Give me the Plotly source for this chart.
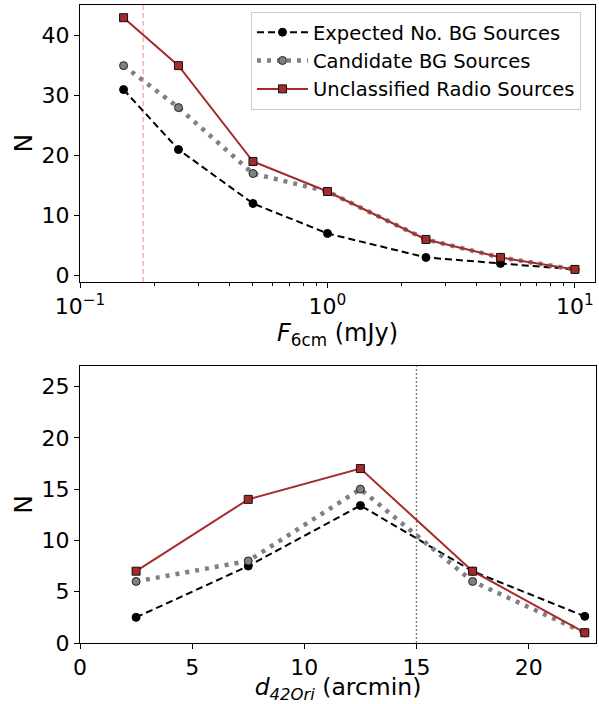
import plotly.graph_objects as go

# ---- data ----
flux = [0.15, 0.25, 0.5, 1.0, 2.5, 5.0, 10.0]
flux_expected = [31, 21, 12, 7, 3, 2, 1]
flux_candidate = [35, 28, 17, 14, 6, 3, 1]
flux_unclassified = [43, 35, 19, 14, 6, 3, 1]
flux_limit = 0.18

dist = [2.5, 7.5, 12.5, 17.5, 22.5]
dist_expected = [2.5, 7.5, 13.4, 7.0, 2.6]
dist_candidate = [6, 8, 15, 6, 1]
dist_unclassified = [7, 14, 17, 7, 1]
dist_limit = 15

names = ["Expected No. BG Sources", "Candidate BG Sources", "Unclassified Radio Sources"]

W, H = 599, 704
FONT = "DejaVu Sans"
BROWN = "#a52a2a"

styles = [
    dict(line=dict(color="black", width=2, dash="7px,4px"),
         marker=dict(symbol="circle", size=8, color="black", line=dict(color="black", width=1))),
    dict(line=dict(color="gray", width=4.5, dash="4px,6px"),
         marker=dict(symbol="circle", size=8, color="gray", line=dict(color="#222222", width=1))),
    dict(line=dict(color=BROWN, width=2),
         marker=dict(symbol="square", size=8, color=BROWN, line=dict(color="#111111", width=1))),
]

fig = go.Figure()

for i, ys in enumerate([flux_expected, flux_candidate, flux_unclassified]):
    fig.add_trace(go.Scatter(x=flux, y=ys, mode="lines+markers", name=names[i],
                             showlegend=True, xaxis="x", yaxis="y", **styles[i]))
for i, ys in enumerate([dist_expected, dist_candidate, dist_unclassified]):
    fig.add_trace(go.Scatter(x=dist, y=ys, mode="lines+markers", name=names[i],
                             showlegend=False, xaxis="x2", yaxis="y2", **styles[i]))

# reference lines
fig.add_shape(type="line", xref="x", yref="y domain", x0=flux_limit, x1=flux_limit, y0=0, y1=1,
              line=dict(color="rgba(255,0,0,0.3)", width=1.5, dash="5px,3px"), layer="below")
fig.add_shape(type="line", xref="x2", yref="y2 domain", x0=dist_limit, x1=dist_limit, y0=0, y1=1,
              line=dict(color="gray", width=1.5, dash="2px,2px"), layer="below")

axis_common = dict(showgrid=False, zeroline=False, showline=True, linecolor="black", linewidth=1,
                   mirror=True, ticks="outside", ticklen=5, tickwidth=1, tickcolor="black",
                   tickfont=dict(family=FONT, size=22, color="black"), automargin=False)

minor_vals = [m * 10 ** e for e in (-1, 0) for m in range(2, 10)]

fig.update_layout(
    width=W, height=H,
    margin=dict(l=0, r=0, t=0, b=0),
    paper_bgcolor="white", plot_bgcolor="white",
    font=dict(family=FONT, color="black"),
    xaxis=dict(type="log", range=[-1, 1.081], domain=[80 / W, 595 / W], anchor="y",
               tickvals=[0.1, 1, 10], ticktext=["10<sup>−1</sup>", "10<sup>0</sup>", "10<sup>1</sup>"],
               minor=dict(tickvals=minor_vals, ticks="outside", ticklen=3, tickcolor="black", tickwidth=1),
               title=dict(text="<i>F</i><sub>6cm</sub> (mJy)", font=dict(family=FONT, size=24), standoff=2),
               **axis_common),
    yaxis=dict(range=[-1.1, 45.2], domain=[1 - 282 / H, 1 - 4.5 / H], anchor="x",
               tickvals=[0, 10, 20, 30, 40],
               title=dict(text="N", font=dict(family=FONT, size=25), standoff=1),
               **axis_common),
    xaxis2=dict(range=[0, 23], domain=[80 / W, 596 / W], anchor="y2",
                tickvals=[0, 5, 10, 15, 20],
                title=dict(text="<i>d</i><sub><i>42Ori</i></sub> (arcmin)", font=dict(family=FONT, size=23.5), standoff=10),
                **axis_common),
    yaxis2=dict(range=[0, 27], domain=[1 - 643 / H, 1 - 366 / H], anchor="x2",
                tickvals=[0, 5, 10, 15, 20, 25],
                title=dict(text="N", font=dict(family=FONT, size=25), standoff=1),
                **axis_common),
    legend=dict(x=251 / W, y=1 - 12 / H, xanchor="left", yanchor="top",
                bgcolor="white", bordercolor="#cccccc", borderwidth=1,
                font=dict(family=FONT, size=19.5, color="black"),
                itemwidth=51, tracegroupgap=0),
    showlegend=True,
)

fig.write_html("out.html", config={"displayModeBar": False},
               post_script="document.body.style.margin='0';document.body.style.padding='0';")
